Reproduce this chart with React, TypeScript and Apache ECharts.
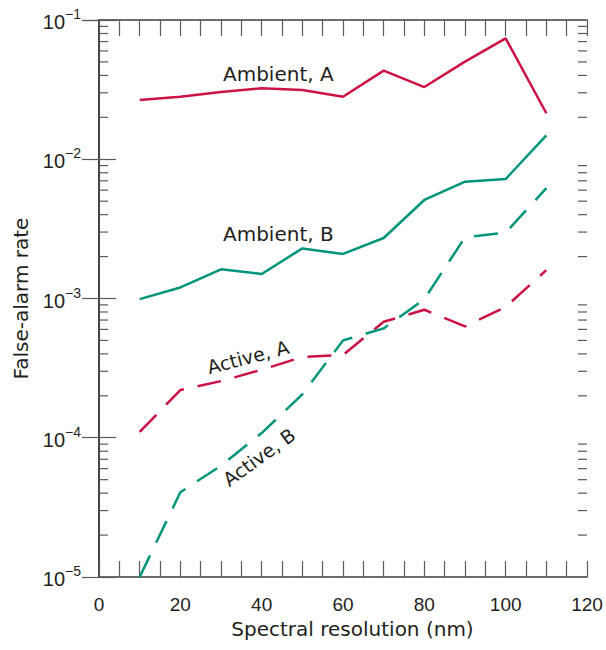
import React, { useEffect, useRef } from "react";
import * as echarts from "echarts";

const resolutions = [10, 20, 30, 40, 50, 60, 70, 80, 90, 100, 110];
const ambientA = [0.0266, 0.0281, 0.0304, 0.0323, 0.0314, 0.0281, 0.0433, 0.033, 0.0502, 0.0738, 0.0214];
const ambientB = [0.00099, 0.0012, 0.00162, 0.0015, 0.00229, 0.00209, 0.00272, 0.0051, 0.0069, 0.00721, 0.01485];
const activeA = [1.1e-4, 2.2e-4, 2.55e-4, 3.08e-4, 3.8e-4, 3.93e-4, 6.8e-4, 8.3e-4, 6.3e-4, 8.7e-4, 1.6e-3];
const activeB = [1.0e-5, 4.06e-5, 6.3e-5, 1.08e-4, 2.05e-4, 5.0e-4, 6.1e-4, 9.9e-4, 2.75e-3, 2.97e-3, 6.2e-3];
const decades = [-5, -4, -3, -2];
const minorMultipliers = [2, 3, 4, 5, 6, 7, 8, 9];
const xLabelValues = [0, 20, 40, 60, 80, 100, 120];

const RED = "#cc1245";
const GREEN = "#00957a";
const TEXT = "#231f20";
const AXIS = "#3d3d3d";
const TICK = "#5a5a5a";
const TICK_FONT = "'Liberation Sans Narrow', 'Liberation Sans', Arial, sans-serif";
const NAME_FONT = "'DejaVu Sans', sans-serif";

const minorValues: number[] = [];
decades.forEach((d) => minorMultipliers.forEach((m) => minorValues.push(m * Math.pow(10, d))));

const pairs = (ys: number[]) => resolutions.map((x, i) => [x, ys[i]]);

export default function App() {
  const ref = useRef<HTMLDivElement>(null);
  useEffect(() => {
    document.body.style.margin = "0";
    if (!ref.current) return;
    const chart = echarts.init(ref.current, undefined, { renderer: "svg" });
    const xCommon = {
      type: "value" as const,
      min: 0,
      max: 120,
      interval: 5,
      splitLine: { show: false },
      axisLine: { show: true, lineStyle: { color: AXIS, width: 1.6 } },
      axisTick: { show: true, inside: true, length: 16, lineStyle: { color: TICK, width: 1.2 } },
    };
    const yCommon = {
      type: "log" as const,
      logBase: 10,
      min: 1e-5,
      max: 1e-1,
      splitLine: { show: false },
      axisLine: { show: true, lineStyle: { color: AXIS, width: 1.6 } },
      axisTick: { show: true, inside: true, length: 17, lineStyle: { color: TICK, width: 1.2 } },
    };
    const lineSeries = (name: string, ys: number[], color: string, dashed: boolean) => ({
      name,
      type: "line" as const,
      data: pairs(ys),
      symbol: "none",
      lineStyle: { color, width: 2.5, type: dashed ? [24, 14] : "solid" },
      z: 5,
    });
    chart.setOption({
      animation: false,
      grid: { left: 99, right: 19, top: 20, bottom: 73 },
      xAxis: [
        {
          ...xCommon,
          position: "bottom",
          name: "Spectral resolution (nm)",
          nameLocation: "middle",
          nameGap: 35,
          nameTextStyle: { fontFamily: NAME_FONT, fontSize: 20, color: TEXT, padding: [0, 0, 0, 19] },
          axisLabel: {
            margin: 18,
            fontFamily: TICK_FONT,
            fontSize: 19,
            color: TEXT,
            formatter: (v: number) => (xLabelValues.includes(v) ? String(v) : ""),
          },
        },
        { ...xCommon, position: "top", axisLabel: { show: false } },
      ],
      yAxis: [
        {
          ...yCommon,
          position: "left",
          name: "False-alarm rate",
          nameLocation: "middle",
          nameGap: 68,
          nameTextStyle: { fontFamily: NAME_FONT, fontSize: 20, color: TEXT },
          axisLabel: {
            margin: 18,
            formatter: (v: number) => {
              const e = Math.round(Math.log10(v));
              return `{b|10}{s|\u2212${-e}}`;
            },
            rich: {
              b: { fontFamily: TICK_FONT, fontSize: 20, color: TEXT, lineHeight: 26, padding: [4, 0, 0, 0] },
              s: { fontFamily: TICK_FONT, fontSize: 14, color: TEXT, lineHeight: 14, verticalAlign: "top" },
            },
          },
        },
        { ...yCommon, position: "right", axisLabel: { show: false } },
      ],
      series: [
        lineSeries("Ambient, A", ambientA, RED, false),
        lineSeries("Ambient, B", ambientB, GREEN, false),
        lineSeries("Active, A", activeA, RED, true),
        lineSeries("Active, B", activeB, GREEN, true),
        {
          type: "custom",
          silent: true,
          data: minorValues.map((v) => [0, v]),
          clip: false,
          z: 3,
          renderItem: (_p: any, api: any) => {
            const v = api.value(1);
            const l = api.coord([0, v]);
            const r = api.coord([120, v]);
            const st = { stroke: TICK, lineWidth: 1.2 };
            return {
              type: "group",
              children: [
                { type: "line", shape: { x1: l[0], y1: l[1], x2: l[0] + 9, y2: l[1] }, style: st },
                { type: "line", shape: { x1: r[0], y1: r[1], x2: r[0] - 9, y2: r[1] }, style: st },
              ],
            };
          },
        },
      ],
      graphic: [
        {
          type: "text",
          left: 223,
          top: 64,
          style: { text: "Ambient, A", fontFamily: NAME_FONT, fontSize: 20, fill: TEXT },
        },
        {
          type: "text",
          left: 223,
          top: 224,
          style: { text: "Ambient, B", fontFamily: NAME_FONT, fontSize: 20, fill: TEXT },
        },
        {
          type: "text",
          x: 248,
          y: 357,
          rotation: (14.5 * Math.PI) / 180,
          style: { text: "Active, A", fontFamily: NAME_FONT, fontSize: 19, fill: TEXT, align: "center", verticalAlign: "middle" },
        },
        {
          type: "text",
          x: 259,
          y: 457,
          rotation: (36 * Math.PI) / 180,
          style: { text: "Active, B", fontFamily: NAME_FONT, fontSize: 19, fill: TEXT, align: "center", verticalAlign: "middle" },
        },
      ],
    });
    return () => chart.dispose();
  }, []);
  return <div ref={ref} style={{ width: 606, height: 650 }} />;
}
